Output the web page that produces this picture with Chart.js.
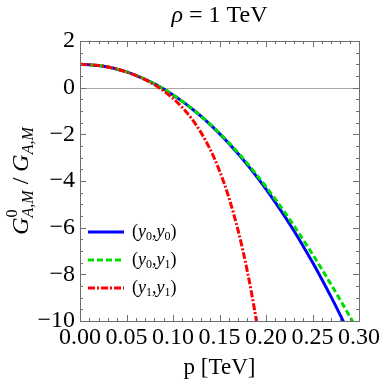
<!DOCTYPE html>
<html>
<head>
<meta charset="utf-8">
<script src="https://cdn.jsdelivr.net/npm/chart.js@4/dist/chart.umd.min.js"></script>
<style>
  html, body { margin: 0; padding: 0; background: #ffffff; }
  #chart { display: block; }
</style>
</head>
<body>
<canvas id="chart" width="382" height="379"></canvas>
<script>
// ========================================
// DATA
// ========================================
const pGrid = [0.00, 0.01, 0.02, 0.03, 0.04, 0.05, 0.06, 0.07, 0.08, 0.09,
               0.10, 0.11, 0.12, 0.13, 0.14, 0.15, 0.16, 0.17, 0.18, 0.19,
               0.20, 0.21, 0.22, 0.23, 0.24, 0.25, 0.26, 0.27, 0.28, 0.29, 0.30];

// (y0,y0)
const y0y0 = [1.000, 0.987, 0.948, 0.883, 0.792, 0.674, 0.531, 0.361, 0.164, -0.059,
              -0.309, -0.587, -0.891, -1.223, -1.583, -1.972, -2.388, -2.834, -3.309, -3.813,
              -4.347, -4.912, -5.507, -6.134, -6.793, -7.484, -8.208, -8.966, -9.758, -10.584, -11.445];

// (y0,y1)
const y0y1 = [1.000, 0.987, 0.948, 0.883, 0.792, 0.674, 0.531, 0.361, 0.164, -0.059,
              -0.308, -0.585, -0.887, -1.214, -1.569, -1.951, -2.358, -2.792, -3.252, -3.736,
              -4.247, -4.779, -5.335, -5.915, -6.516, -7.137, -7.778, -8.436, -9.111, -9.799, -10.499];

// (y1,y1)
const pRed = [0.00, 0.01, 0.02, 0.03, 0.04, 0.05, 0.06, 0.07, 0.08, 0.09,
              0.10, 0.11, 0.12, 0.13, 0.14, 0.15, 0.16, 0.17, 0.175, 0.18,
              0.185, 0.19, 0.195];
const y1y1 = [1.000, 0.987, 0.948, 0.883, 0.791, 0.671, 0.523, 0.342, 0.123, -0.141,
              -0.460, -0.850, -1.326, -1.916, -2.648, -3.560, -4.697, -6.117, -6.950, -7.882,
              -8.920, -10.070, -11.360];

const xTicks = [0.00, 0.05, 0.10, 0.15, 0.20, 0.25, 0.30];
const yTicks = [-10, -8, -6, -4, -2, 0, 2];
const xMinorStep = 0.01;
const yMinorStep = 0.5;

const seriesLabels = [['y', '0', 'y', '0'], ['y', '0', 'y', '1'], ['y', '1', 'y', '1']];

// ========================================
// HELPERS
// ========================================
const SERIF = '"Liberation Serif", "Times New Roman", Times, serif';

function toPoints(xs, ys) {
    return xs.map((x, i) => ({ x: x, y: ys[i] }));
}

// draw a run of text pieces: {t, font, dy}
function drawRuns(ctx, runs, x, y, align) {
    let total = 0;
    runs.forEach(r => {
        ctx.font = r.font;
        r.w = r.adv !== undefined ? r.adv : ctx.measureText(r.t).width;
        total += r.w;
    });
    let cx = align === 'center' ? x - total / 2 : x;
    runs.forEach(r => {
        ctx.font = r.font;
        ctx.fillText(r.t, cx, y + (r.dy || 0));
        cx += r.w;
    });
}

// ========================================
// FRAME / TEXT PLUGIN
// ========================================
const framePlugin = {
    id: 'mmaFrame',
    beforeDatasetsDraw(chart) {
        const { ctx, chartArea: a, scales } = chart;
        const y0 = scales.y.getPixelForValue(0);
        ctx.save();
        ctx.strokeStyle = '#a6a6a6';
        ctx.lineWidth = 1;
        ctx.beginPath();
        ctx.moveTo(a.left, Math.round(y0) + 0.5);
        ctx.lineTo(a.right, Math.round(y0) + 0.5);
        ctx.stroke();
        ctx.restore();
    },
    afterDraw(chart) {
        const { ctx, chartArea: a, scales } = chart;
        const xs = scales.x, ys = scales.y;
        ctx.save();

        // frame
        ctx.strokeStyle = '#6f6f6f';
        ctx.lineWidth = 1;
        ctx.strokeRect(Math.round(a.left) + 0.5, Math.round(a.top) + 0.5,
                       Math.round(a.right - a.left), Math.round(a.bottom - a.top));

        // inward ticks on all four sides
        ctx.beginPath();
        const xMin = xs.min, xMax = xs.max;
        for (let k = 0; xMin + k * xMinorStep <= xMax + 1e-9; k++) {
            const v = xMin + k * xMinorStep;
            const major = xTicks.some(t => Math.abs(t - v) < 1e-9);
            const len = major ? 6 : 3;
            const px = Math.round(xs.getPixelForValue(v)) + 0.5;
            ctx.moveTo(px, a.bottom); ctx.lineTo(px, a.bottom - len);
            ctx.moveTo(px, a.top); ctx.lineTo(px, a.top + len);
        }
        for (let k = 0; ys.min + k * yMinorStep <= ys.max + 1e-9; k++) {
            const v = ys.min + k * yMinorStep;
            const major = yTicks.some(t => Math.abs(t - v) < 1e-9);
            const len = major ? 6 : 3;
            const py = Math.round(ys.getPixelForValue(v)) + 0.5;
            ctx.moveTo(a.left, py); ctx.lineTo(a.left + len, py);
            ctx.moveTo(a.right, py); ctx.lineTo(a.right - len, py);
        }
        ctx.stroke();

        ctx.fillStyle = '#000000';
        ctx.textBaseline = 'alphabetic';

        // title
        const cx = (a.left + a.right) / 2;
        drawRuns(ctx, [
            { t: 'ρ', font: 'italic 24px ' + SERIF },
            { t: ' = 1 TeV', font: '24px ' + SERIF }
        ], cx, 22, 'center');

        // x axis title
        drawRuns(ctx, [{ t: 'p [TeV]', font: '23px ' + SERIF }], cx, 374, 'center');

        // y axis title (rotated)
        ctx.save();
        ctx.translate(28, (a.top + a.bottom) / 2);
        ctx.rotate(-Math.PI / 2);
        ctx.font = 'italic 16px ' + SERIF;
        const subW = ctx.measureText('A,M').width;
        drawRuns(ctx, [
            { t: 'G', font: 'italic 24px ' + SERIF },
            { t: '0', font: '16px ' + SERIF, dy: -11, adv: 0 },
            { t: 'A,M', font: 'italic 16px ' + SERIF, dy: 5, adv: subW },
            { t: ' / ', font: '24px ' + SERIF },
            { t: 'G', font: 'italic 24px ' + SERIF },
            { t: 'A,M', font: 'italic 16px ' + SERIF, dy: 5 }
        ], 0, 0, 'center');
        ctx.restore();

        // legend
        const rows = [232, 260, 288];
        const order = [2, 1, 0]; // dataset index for each row: blue, green, red
        order.forEach((di, r) => {
            const ds = chart.data.datasets[di];
            const yy = rows[r];
            ctx.save();
            ctx.strokeStyle = ds.borderColor;
            ctx.lineWidth = ds.borderWidth;
            ctx.setLineDash(ds.borderDash || []);
            ctx.beginPath();
            ctx.moveTo(88, yy);
            ctx.lineTo(124, yy);
            ctx.stroke();
            ctx.restore();
            const s = seriesLabels[r];
            drawRuns(ctx, [
                { t: '(', font: '18px ' + SERIF },
                { t: s[0], font: 'italic 18px ' + SERIF },
                { t: s[1], font: '12px ' + SERIF, dy: 3 },
                { t: ',', font: '18px ' + SERIF },
                { t: s[2], font: 'italic 18px ' + SERIF },
                { t: s[3], font: '12px ' + SERIF, dy: 3 },
                { t: ')', font: '18px ' + SERIF }
            ], 132, yy + 5, 'left');
        });

        ctx.restore();
    }
};

// ========================================
// CHART
// ========================================
const tickFont = { family: SERIF, size: 24 };

new Chart(document.getElementById('chart'), {
    type: 'line',
    data: {
        datasets: [
            {
                label: '(y1,y1)',
                data: toPoints(pRed, y1y1),
                borderColor: '#ff0000',
                borderWidth: 3,
                borderDash: [7, 2, 2, 2],
                borderCapStyle: 'butt',
                pointRadius: 0,
                cubicInterpolationMode: 'monotone',
                order: 0
            },
            {
                label: '(y0,y1)',
                data: toPoints(pGrid, y0y1),
                borderColor: '#00dd00',
                borderWidth: 3,
                borderDash: [6, 3],
                borderCapStyle: 'butt',
                pointRadius: 0,
                cubicInterpolationMode: 'monotone',
                order: 1
            },
            {
                label: '(y0,y0)',
                data: toPoints(pGrid, y0y0),
                borderColor: '#0000ff',
                borderWidth: 3,
                pointRadius: 0,
                cubicInterpolationMode: 'monotone',
                order: 2
            }
        ]
    },
    options: {
        responsive: false,
        animation: false,
        devicePixelRatio: 1,
        layout: { padding: { left: 0, right: 21, top: 41, bottom: 0 } },
        plugins: {
            legend: { display: false },
            tooltip: { enabled: false },
            title: { display: false }
        },
        scales: {
            x: {
                type: 'linear',
                min: 0,
                max: 0.3,
                afterBuildTicks: scale => { scale.ticks = xTicks.map(v => ({ value: v })); },
                afterFit: scale => { scale.height = 58; },
                grid: { display: false, drawTicks: false },
                border: { display: false },
                ticks: {
                    font: tickFont,
                    color: '#000000',
                    padding: 2,
                    autoSkip: false,
                    maxRotation: 0,
                    minRotation: 0,
                    callback: v => Number(v).toFixed(2)
                }
            },
            y: {
                type: 'linear',
                min: -10,
                max: 2,
                afterBuildTicks: scale => { scale.ticks = yTicks.map(v => ({ value: v })); },
                afterFit: scale => { scale.width = 80; },
                grid: { display: false, drawTicks: false },
                border: { display: false },
                ticks: {
                    font: tickFont,
                    color: '#000000',
                    padding: 5,
                    callback: v => (v < 0 ? '\u2212' + Math.abs(v) : String(v))
                }
            }
        }
    },
    plugins: [framePlugin]
});
</script>
</body>
</html>
